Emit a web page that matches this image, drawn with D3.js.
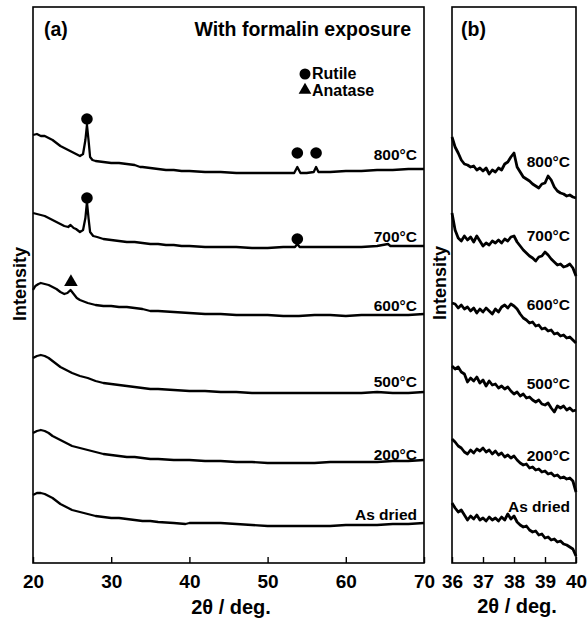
<!DOCTYPE html>
<html>
<head>
<meta charset="utf-8">
<script src="https://cdn.jsdelivr.net/npm/d3@7"></script>
<style>
  body { margin: 0; background: #fff; }
  svg { display: block; font-family: "Liberation Sans", Arial, sans-serif; font-weight: bold; }
</style>
</head>
<body>
<svg width="588" height="621"></svg>
<script>
// sample names, top to bottom
const sampleLabels = ["800°C", "700°C", "600°C", "500°C", "200°C", "As dried"];

// panel (a): wide scans, [2theta, intensity a.u.] (curves already offset)
const scanA800 = [[20,428],[20.5,429],[21,427],[21.5,427],[22,425],[22.5,423],[23,420],[23.5,417],[24,415],[24.5,413],[25,411],[25.5,409],[26,407],[26.4,409],[26.7,423],[26.9,438],[27.1,423],[27.3,406],[27.6,403],[28,402],[29,401],[30,400],[31,400],[32,399],[33,398],[33.7,396],[34,396],[35,395],[36,394],[37,393],[38,393],[39,392],[40,392],[42,391],[44,391],[46,390],[48,390],[50,390],[52,390],[53.4,390],[53.8,396],[54.2,390],[55,390],[55.9,391],[56.2,396],[56.5,391],[58,391],[60,392],[62,392],[64,393],[66,393],[68,394],[70,394]];
const scanA700 = [[20,350],[20.5,349],[21,348],[21.5,347],[22,345],[22.5,343],[23,341],[23.5,339],[24,337],[24.5,336],[24.8,338],[25.2,335],[25.5,334],[26,331],[26.4,333],[26.7,345],[26.9,361],[27.1,345],[27.3,331],[27.7,327],[28.2,326],[29,324],[30,323],[31,322],[32,321],[33,321],[34,320],[35,319],[36,319],[37,318],[38,318],[39,317],[40,317],[42,316],[44,316],[46,316],[48,315],[50,315],[52,316],[53.5,316],[53.8,319],[54.1,316],[56,316],[58,316],[60,316],[62,316],[64,317],[65.4,319],[65.7,317],[68,317],[70,317]];
const scanA600 = [[20,273],[20.3,277],[20.7,279],[21,280],[21.5,279],[22,278],[22.5,276],[23,274],[23.5,271],[24,269],[24.4,270],[24.8,273],[25.2,269],[25.6,265],[26,263],[27,260],[28,258],[29,257],[30,257],[31,256],[32,256],[33,255],[34,254],[35,252],[36,252],[38,251],[40,250],[42,249],[44,249],[46,248],[48,248],[50,248],[52,247],[54,247],[56,248],[58,248],[60,247],[62,248],[64,248],[66,248],[68,248],[70,249]];
const scanA500 = [[20,205],[20.5,207],[21,208],[21.5,207],[22,205],[22.5,202],[23,199],[23.5,196],[24,194],[24.5,192],[25,190],[26,187],[27,185],[28,182],[29,180],[30,179],[31,178],[32,177],[33,176],[34,175],[35,174],[36,174],[38,173],[40,172],[42,172],[44,171],[46,171],[48,170],[50,170],[52,170],[54,170],[56,170],[58,170],[60,170],[62,170],[64,171],[66,170],[68,170],[70,171]];
const scanA200 = [[20,130],[20.5,132],[21,133],[21.5,132],[22,130],[22.5,127],[23,125],[23.5,123],[24,121],[24.5,119],[25,117],[26,115],[27,113],[28,111],[29,109],[30,108],[31,107],[32,106],[33,106],[34,105],[35,104],[36,104],[38,103],[40,103],[42,102],[44,102],[46,101],[48,101],[50,100],[52,100],[54,100],[56,100],[58,101],[60,101],[62,101],[64,101],[66,102],[68,102],[70,103]];
const scanADried = [[20,68],[20.5,70],[21,70],[21.5,69],[22,67],[22.5,65],[23,62],[23.5,59],[24,57],[24.5,55],[25,53],[26,51],[27,49],[28,47],[29,46],[30,45],[31,45],[32,44],[33,43],[34,42],[35,42],[36,41],[38,40],[39.5,39],[40,40],[42,40],[44,40],[46,39],[48,38],[50,37],[52,37],[54,37],[56,37],[58,37],[60,38],[62,38],[64,38],[66,39],[68,39],[70,40]];

// phase markers in panel (a)
const rutileMarks = [[26.9,444],[53.8,410],[56.2,410],[26.9,365],[53.8,324]];
const anataseMarks = [[24.85,281]];

// panel (b): narrow scans 36-40 deg
const twoThetaB = [36.0,36.1,36.2,36.3,36.4,36.5,36.6,36.7,36.8,36.9,37.0,37.1,37.2,37.3,37.4,37.5,37.6,37.7,37.8,37.9,38.0,38.1,38.2,38.3,38.4,38.5,38.6,38.7,38.8,38.9,39.0,39.1,39.2,39.3,39.4,39.5,39.6,39.7,39.8,39.9,40.0];
const scanB800 = [426,416,410,403,399,398,396,397,393,395,392,395,389,393,391,395,393,399,401,406,410,396,391,386,384,382,379,377,375,379,380,387,383,376,372,370,369,367,368,366,365];
const scanB700 = [350,333,325,322,327,323,326,321,327,322,317,320,318,322,320,323,320,324,322,326,327,321,317,313,310,307,305,302,306,307,311,308,304,301,298,299,296,297,299,295,287];
const scanB600 = [260,259,255,258,254,256,252,255,250,254,251,255,252,249,254,251,256,258,255,259,257,254,249,245,243,240,241,237,238,234,235,232,233,229,230,227,228,225,226,223,220];
const scanB500 = [197,194,196,191,189,181,185,182,186,180,183,177,182,178,179,175,177,174,176,172,169,171,167,169,165,166,163,161,163,159,158,160,155,151,157,155,157,153,155,152,153];
const scanB200 = [124,121,117,115,111,109,113,110,114,112,115,111,113,109,112,108,110,106,108,105,107,103,100,98,99,95,96,93,94,91,92,89,90,87,88,85,86,84,85,82,71];
const scanBDried = [60,55,51,53,48,43,47,44,48,43,45,42,46,43,45,42,46,43,49,44,47,41,38,36,37,33,31,32,28,29,25,26,23,24,21,22,19,18,16,14,7];

// label heights (intensity a.u.) beside each curve
const labelLevelsA = [403, 321, 252, 176, 103, 43];
const labelLevelsB = [396, 322, 253, 174, 102, 51];

const svg = d3.select("svg");
const plotTop = 7, plotBottom = 563;

const panelA = { left: 33, right: 424 };
const panelB = { left: 452, right: 576 };

const xA = d3.scaleLinear().domain([20, 70]).range([panelA.left, panelA.right]);
const xB = d3.scaleLinear().domain([36, 40]).range([panelB.left, panelB.right]);
const y = d3.scaleLinear().domain([0, 556]).range([plotBottom, plotTop]);

function drawFrame(p, xs, ticks) {
    svg.append("rect")
        .attr("x", p.left).attr("y", plotTop)
        .attr("width", p.right - p.left).attr("height", plotBottom - plotTop)
        .attr("fill", "none").attr("stroke", "#000").attr("stroke-width", 1.6);

    const ax = svg.append("g")
        .attr("transform", `translate(0,${plotBottom})`)
        .call(d3.axisBottom(xs).tickValues(ticks).tickFormat(d3.format("d"))
            .tickSizeInner(-6).tickSizeOuter(0).tickPadding(12));
    ax.select(".domain").remove();
    ax.selectAll("line").attr("stroke", "#000").attr("stroke-width", 1.4);
    ax.selectAll("text")
        .attr("fill", "#000")
        .style("font-size", "19px")
        .style("font-weight", "bold")
        .style("font-family", '"Liberation Sans", Arial, sans-serif');
}

drawFrame(panelA, xA, [20, 30, 40, 50, 60, 70]);
drawFrame(panelB, xB, [36, 37, 38, 39, 40]);

const lineA = d3.line().x(d => xA(d[0])).y(d => y(d[1]));
const lineB = d3.line().x((d, i) => xB(twoThetaB[i])).y(d => y(d));

[scanA800, scanA700, scanA600, scanA500, scanA200, scanADried].forEach(s => {
    svg.append("path").attr("d", lineA(s))
        .attr("fill", "none").attr("stroke", "#000")
        .attr("stroke-width", 2.3).attr("stroke-linejoin", "round");
});

[scanB800, scanB700, scanB600, scanB500, scanB200, scanBDried].forEach(s => {
    svg.append("path").attr("d", lineB(s))
        .attr("fill", "none").attr("stroke", "#000")
        .attr("stroke-width", 2.8).attr("stroke-linejoin", "round");
});

// markers
svg.selectAll(".rutile").data(rutileMarks).enter()
    .append("circle").attr("class", "rutile")
    .attr("cx", d => xA(d[0])).attr("cy", d => y(d[1])).attr("r", 5.8)
    .attr("fill", "#000");

const tri = d3.symbol().type(d3.symbolTriangle).size(80);
svg.selectAll(".anatase").data(anataseMarks).enter()
    .append("path").attr("class", "anatase")
    .attr("d", tri)
    .attr("transform", d => `translate(${xA(d[0])},${y(d[1])})`)
    .attr("fill", "#000");

// sample labels
sampleLabels.forEach((t, i) => {
    svg.append("text").attr("x", 417).attr("y", y(labelLevelsA[i]))
        .attr("text-anchor", "end").style("font-size", "15.5px").text(t);
    svg.append("text").attr("x", 570).attr("y", y(labelLevelsB[i]))
        .attr("text-anchor", "end").style("font-size", "15.5px").text(t);
});

// panel titles
svg.append("text").attr("x", 44).attr("y", 36).style("font-size", "19.5px").text("(a)");
svg.append("text").attr("x", 461).attr("y", 36).style("font-size", "19.5px").text("(b)");
svg.append("text").attr("x", 411).attr("y", 36).attr("text-anchor", "end")
    .style("font-size", "19.5px").text("With formalin exposure");

// legend
svg.append("circle").attr("cx", 305).attr("cy", 74).attr("r", 5.5).attr("fill", "#000");
svg.append("text").attr("x", 312).attr("y", 79).style("font-size", "16px").text("Rutile");
svg.append("path").attr("d", d3.symbol().type(d3.symbolTriangle).size(70))
    .attr("transform", "translate(305,90)").attr("fill", "#000");
svg.append("text").attr("x", 312).attr("y", 96).style("font-size", "16px").text("Anatase");

// axis titles
svg.append("text").attr("x", 231).attr("y", 614).attr("text-anchor", "middle")
    .style("font-size", "20px").text("2θ / deg.");
svg.append("text").attr("x", 517).attr("y", 613).attr("text-anchor", "middle")
    .style("font-size", "20px").text("2θ / deg.");
svg.append("text").attr("transform", "translate(26,284) rotate(-90)")
    .attr("text-anchor", "middle").style("font-size", "18px").text("Intensity");
svg.append("text").attr("transform", "translate(446,283) rotate(-90)")
    .attr("text-anchor", "middle").style("font-size", "18px").text("Intensity");
</script>
</body>
</html>
